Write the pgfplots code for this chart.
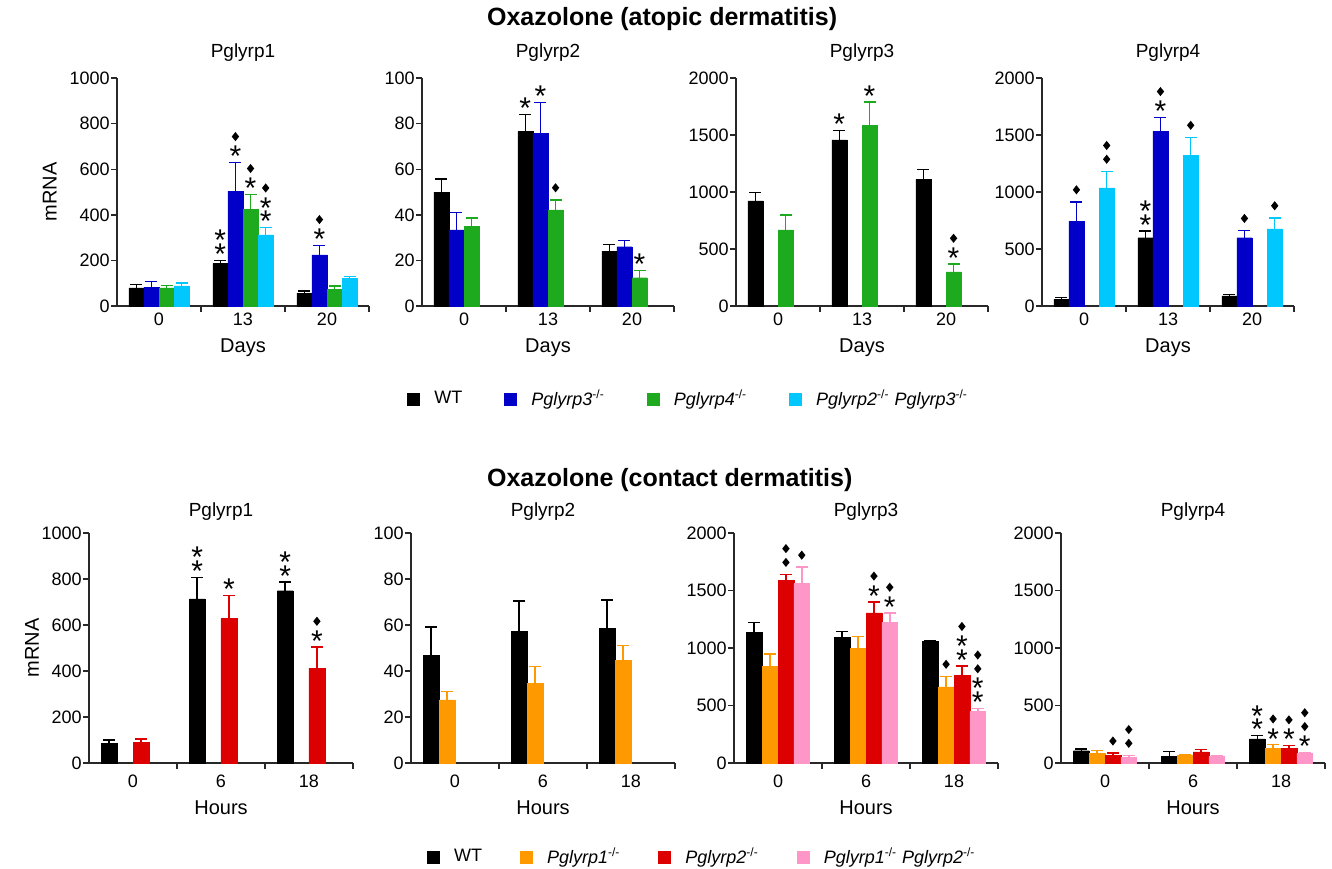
\documentclass[border=0pt]{standalone}
\usepackage{fontspec}
\setmainfont{Liberation Sans}
\usepackage{graphicx}
\usepackage{pgfplots}
\pgfplotsset{compat=1.18}

\definecolor{cwt}{RGB}{0,0,0}
\definecolor{cblue}{RGB}{0,0,200}
\definecolor{cgreen}{RGB}{30,170,30}
\definecolor{ccyan}{RGB}{0,200,255}
\definecolor{corange}{RGB}{255,153,0}
\definecolor{cred}{RGB}{220,0,0}
\definecolor{cpink}{RGB}{255,150,200}
\definecolor{axc}{RGB}{40,40,40}

\newcommand\As{\raisebox{-0.39em}[0.34em][0pt]{*}}
\newcommand\Dm{\scalebox{0.9}[1.12]{\rotatebox{45}{\rule{2.9pt}{2.9pt}}}}
\newcommand\ann[3]{\node[anchor=south, inner sep=0pt, yshift=3.5pt, align=center, font=\fontsize{15}{6.9}\selectfont] at (axis cs:#1,#2) {#3};}

\pgfplotsset{
  base/.style={
    scale only axis,
    axis x line*=bottom, axis y line*=left,
    axis line style={line width=0.7pt, axc},
    every tick/.style={line width=0.7pt, axc},
    tick align=outside,
    major tick length=3pt,
    xmin=-0.5, xmax=2.5, ymin=0,
    xtick={0.5,1.5,2.5}, xticklabels={},
    extra x ticks={0,1,2},
    extra x tick style={major tick length=0pt},
    ticklabel style={font=\fontsize{9}{10}\selectfont},
    yticklabel style={inner sep=0.5pt},
    /pgf/number format/assume math mode=true,
    /pgf/number format/1000 sep={},
    scaled y ticks=false,
    clip=false,
    title style={font=\fontsize{9.5}{11}\selectfont, at={(axis description cs:0.5,1)}, anchor=center},
    label style={font=\fontsize{10}{12}\selectfont},
    xlabel style={at={(axis description cs:0.5,0)}, anchor=center},
  },
  toprow/.style={base, width=126pt, height=114pt, title style={yshift=6.5pt},
    xlabel={Days}, extra x tick labels={0,13,20},
    xlabel style={yshift=-21pt},
    xticklabel style={anchor=center, yshift=-6.7pt}},
  botrow/.style={base, width=132pt, height=115pt, title style={yshift=4.5pt},
    xlabel={Hours}, extra x tick labels={0,6,18},
    xlabel style={yshift=-22.5pt},
    xticklabel style={anchor=center, yshift=-9.2pt}},
  r1000/.style={ymax=1000, ytick={0,200,400,600,800,1000}},
  r100/.style={ymax=100, ytick={0,20,40,60,80,100}},
  r2000/.style={ymax=2000, ytick={0,500,1000,1500,2000}},
  bars/.style={ybar, bar width=0.18, bar shift=0pt, draw=#1, line width=0.2pt, fill=#1, forget plot,
    error bars/y dir=plus, error bars/y explicit,
    error bars/error mark=-,
    error bars/error bar style={draw=#1, line width=0.75pt, solid},
    error bars/error mark options={draw=#1, rotate=90, mark size=3pt, line width=0.75pt}},
  sq/.style={legend image code/.code={\fill[##1, draw=none] (0pt,-3.25pt) rectangle (6.5pt,3.25pt);}},
  leg/.style={legend style={draw=none, fill=none, legend columns=4, anchor=west,
    font=\fontsize{9}{10}\selectfont, inner sep=0pt,
    /tikz/every odd column/.append style={column sep=5pt}}, legend cell align=left},
}

\begin{document}
\begin{tikzpicture}
\useasboundingbox (0pt,0pt) rectangle (666pt,-434pt);

\node[font=\bfseries\fontsize{12.5}{14}\selectfont, anchor=west] at (240pt,-9.5pt) {Oxazolone (atopic dermatitis)};
\node[font=\bfseries\fontsize{12.5}{14}\selectfont, anchor=west] at (240pt,-240pt) {Oxazolone (contact dermatitis)};

% ---------- Top row ----------
\begin{axis}[toprow, r1000, at={(58.5pt,-153pt)}, anchor=south west, title={Pglyrp1},
  ylabel={mRNA}, ylabel style={at={(axis description cs:-0.267,0.5)}, anchor=center},
  leg, legend style={at={(axis description cs:1.151,-0.408)},
    /tikz/every even column/.append style={column sep=19pt}}]
\addplot[bars=cwt] coordinates {(-0.27,80) +- (0,15) (0.73,187) +- (0,13) (1.73,56) +- (0,10)};
\addplot[bars=cblue] coordinates {(-0.09,83) +- (0,24) (0.91,504) +- (0,126) (1.91,224) +- (0,42)};
\addplot[bars=cgreen] coordinates {(0.09,80) +- (0,11) (1.09,425) +- (0,65) (2.09,73) +- (0,15)};
\addplot[bars=ccyan] coordinates {(0.27,88) +- (0,14) (1.27,312) +- (0,32) (2.27,122) +- (0,8)};
\ann{0.73}{200}{\As\\\As}
\ann{0.91}{630}{\Dm\\\As}
\ann{1.09}{490}{\Dm\\\As}
\ann{1.27}{344}{\Dm\\\As\\\As}
\ann{1.91}{266}{\Dm\\\As}
\addlegendimage{sq, fill=cwt}\addlegendentry{WT}
\addlegendimage{sq, fill=cblue}\addlegendentry{\textit{Pglyrp3}\textsuperscript{-/-}}
\addlegendimage{sq, fill=cgreen}\addlegendentry{\textit{Pglyrp4}\textsuperscript{-/-}}
\addlegendimage{sq, fill=ccyan}\addlegendentry{\textit{Pglyrp2}\textsuperscript{-/-} \textit{Pglyrp3}\textsuperscript{-/-}}
\end{axis}

\begin{axis}[toprow, r100, at={(211pt,-153pt)}, anchor=south west, title={Pglyrp2}]
\addplot[bars=cwt] coordinates {(-0.27,50) +- (0,5.6) (0.73,76.6) +- (0,7.4) (1.73,24) +- (0,3)};
\addplot[bars=cblue] coordinates {(-0.09,33.4) +- (0,7.6) (0.91,75.8) +- (0,13.5) (1.91,26) +- (0,2.8)};
\addplot[bars=cgreen] coordinates {(0.09,35) +- (0,3.5) (1.09,42.2) +- (0,4.4) (2.09,12.4) +- (0,3.1)};
\ann{0.73}{84}{\As}
\ann{0.91}{89.3}{\As}
\ann{1.09}{46.6}{\Dm}
\ann{2.09}{15.5}{\As}
\end{axis}

\begin{axis}[toprow, r2000, at={(368pt,-153pt)}, anchor=south west, title={Pglyrp3}]
\addplot[bars=cwt] coordinates {(-0.27,922) +- (0,72) (0.73,1458) +- (0,81) (1.73,1110) +- (0,87)};
\addplot[bars=cgreen] coordinates {(0.09,667) +- (0,133) (1.09,1583) +- (0,208) (2.09,299) +- (0,69)};
\ann{0.73}{1539}{\As}
\ann{1.09}{1791}{\As}
\ann{2.09}{368}{\Dm\\\As}
\end{axis}

\begin{axis}[toprow, r2000, at={(521pt,-153pt)}, anchor=south west, title={Pglyrp4}]
\addplot[bars=cwt] coordinates {(-0.27,58) +- (0,15) (0.73,599) +- (0,58) (1.73,88) +- (0,14)};
\addplot[bars=cblue] coordinates {(-0.09,745) +- (0,169) (0.91,1533) +- (0,122) (1.91,599) +- (0,64)};
\addplot[bars=ccyan] coordinates {(0.27,1036) +- (0,146) (1.27,1320) +- (0,160) (2.27,677) +- (0,97)};
\ann{-0.09}{914}{\Dm}
\ann{0.27}{1182}{\Dm\\\Dm}
\ann{0.73}{657}{\As\\\As}
\ann{0.91}{1655}{\Dm\\\As}
\ann{1.27}{1480}{\Dm}
\ann{1.91}{663}{\Dm}
\ann{2.27}{774}{\Dm}
\end{axis}

% ---------- Bottom row ----------
\begin{axis}[botrow, r1000, at={(44.5pt,-381.5pt)}, anchor=south west, title={Pglyrp1},
  ylabel={mRNA}, ylabel style={at={(axis description cs:-0.216,0.5)}, anchor=center},
  leg, legend style={at={(axis description cs:1.279,-0.409)},
    /tikz/every even column/.append style={column sep=17pt}}]
\addplot[bars=cwt] coordinates {(-0.27,87) +- (0,12) (0.73,714) +- (0,93) (1.73,749) +- (0,38)};
\addplot[bars=cred] coordinates {(0.09,90) +- (0,14) (1.09,628) +- (0,101) (2.09,412) +- (0,92)};
\ann{0.73}{807}{\As\\\As}
\ann{1.09}{729}{\As}
\ann{1.73}{787}{\As\\\As}
\ann{2.09}{504}{\Dm\\\As}
\addlegendimage{sq, fill=cwt}\addlegendentry{WT}
\addlegendimage{sq, fill=corange}\addlegendentry{\textit{Pglyrp1}\textsuperscript{-/-}}
\addlegendimage{sq, fill=cred}\addlegendentry{\textit{Pglyrp2}\textsuperscript{-/-}}
\addlegendimage{sq, fill=cpink}\addlegendentry{\textit{Pglyrp1}\textsuperscript{-/-} \textit{Pglyrp2}\textsuperscript{-/-}}
\end{axis}

\begin{axis}[botrow, r100, at={(205.5pt,-381.5pt)}, anchor=south west, title={Pglyrp2}]
\addplot[bars=cwt] coordinates {(-0.27,46.7) +- (0,12.4) (0.73,57.1) +- (0,13.4) (1.73,58.4) +- (0,12.5)};
\addplot[bars=corange] coordinates {(-0.09,27.4) +- (0,3.7) (0.91,34.5) +- (0,7.4) (1.91,44.5) +- (0,6.6)};
\end{axis}

\begin{axis}[botrow, r2000, at={(367pt,-381.5pt)}, anchor=south west, title={Pglyrp3}]
\addplot[bars=cwt] coordinates {(-0.27,1137) +- (0,86) (0.73,1094) +- (0,48) (1.73,1056) +- (0,9)};
\addplot[bars=corange] coordinates {(-0.09,843) +- (0,107) (0.91,999) +- (0,103) (1.91,662) +- (0,92)};
\addplot[bars=cred] coordinates {(0.09,1586) +- (0,54) (1.09,1306) +- (0,95) (2.09,763) +- (0,80)};
\addplot[bars=cpink] coordinates {(0.27,1560) +- (0,143) (1.27,1223) +- (0,81) (2.27,452) +- (0,23)};
\ann{0.09}{1640}{\Dm\\\Dm}
\ann{0.27}{1703}{\Dm}
\ann{1.09}{1401}{\Dm\\\As}
\ann{1.27}{1304}{\Dm\\\As}
\ann{1.91}{754}{\Dm}
\ann{2.09}{843}{\Dm\\\As\\\As}
\ann{2.27}{475}{\Dm\\\Dm\\\As\\\As}
\end{axis}

\begin{axis}[botrow, r2000, at={(530.5pt,-381.5pt)}, anchor=south west, title={Pglyrp4}]
\addplot[bars=cwt] coordinates {(-0.27,107) +- (0,15) (0.73,58) +- (0,43) (1.73,209) +- (0,29)};
\addplot[bars=corange] coordinates {(-0.09,87) +- (0,20) (0.91,67) +- (0,5) (1.91,130) +- (0,29)};
\addplot[bars=cred] coordinates {(0.09,64) +- (0,23) (1.09,96) +- (0,20) (2.09,130) +- (0,21)};
\addplot[bars=cpink] coordinates {(0.27,52) +- (0,15) (1.27,58) +- (0,6) (2.27,81) +- (0,12)};
\ann{0.09}{87}{\Dm}
\ann{0.27}{67}{\Dm\\\Dm}
\ann{1.73}{238}{\As\\\As}
\ann{1.91}{159}{\Dm\\\As}
\ann{2.09}{151}{\Dm\\\As}
\ann{2.27}{93}{\Dm\\\Dm\\\As}
\end{axis}
\end{tikzpicture}
\end{document}
